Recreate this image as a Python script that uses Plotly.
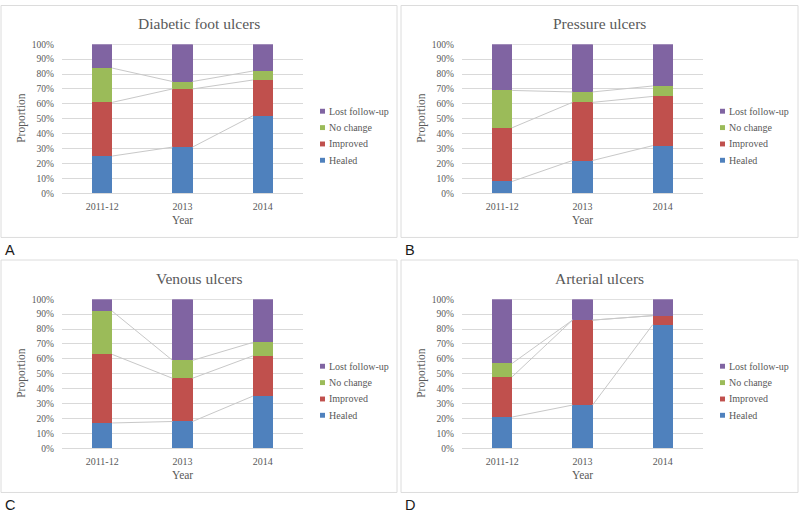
import plotly.graph_objects as go

# ---------------- data ----------------
years = ["2011-12", "2013", "2014"]
series_names = ["Healed", "Improved", "No change", "Lost follow-up"]
series_colors = ["#4F81BD", "#C0504D", "#9BBB59", "#8064A2"]
panel_titles = ["Diabetic foot ulcers", "Pressure ulcers", "Venous ulcers", "Arterial ulcers"]
panel_letters = ["A", "B", "C", "D"]
y_ticks = [0, 10, 20, 30, 40, 50, 60, 70, 80, 90, 100]
y_tick_labels = [f"{v}%" for v in y_ticks]

diabetic_healed = [25, 31, 52]
diabetic_improved = [36, 39, 24]
diabetic_no_change = [23, 5, 6]
diabetic_lost = [16, 25, 18]

pressure_healed = [8, 22, 32]
pressure_improved = [36, 39, 33]
pressure_no_change = [25, 7, 7]
pressure_lost = [31, 32, 28]

venous_healed = [17, 18, 35]
venous_improved = [46, 29, 27]
venous_no_change = [29, 12, 9]
venous_lost = [8, 41, 29]

arterial_healed = [21, 29, 83]
arterial_improved = [27, 57, 6]
arterial_no_change = [9, 0, 0]
arterial_lost = [43, 14, 11]

panels = [
    [diabetic_healed, diabetic_improved, diabetic_no_change, diabetic_lost],
    [pressure_healed, pressure_improved, pressure_no_change, pressure_lost],
    [venous_healed, venous_improved, venous_no_change, venous_lost],
    [arterial_healed, arterial_improved, arterial_no_change, arterial_lost],
]

# ---------------- layout helpers ----------------
W, H = 800, 521
SERIF = "Liberation Serif, Times New Roman, serif"
SANS = "Liberation Sans, Arial, sans-serif"
GREY_TXT = "#595959"
GRID = "#D9D9D9"
BAR_W = 0.25


def px(x):
    return x / W


def py(y):
    return 1 - y / H


offsets = [(0, 0), (400, 0), (0, 260), (400, 260)]
boxes = [(1, 0.5, 397, 237), (401, 0.5, 798, 237), (1, 260, 397, 497), (401, 260, 798, 497)]

fig = go.Figure()
annotations = []
shapes = []
layout_axes = {}

xpos = list(range(len(years)))

for p, (vals, (dx, dy)) in enumerate(zip(panels, offsets)):
    n = p + 1
    xa = "x" if n == 1 else f"x{n}"
    ya = "y" if n == 1 else f"y{n}"
    xkey = "xaxis" if n == 1 else f"xaxis{n}"
    ykey = "yaxis" if n == 1 else f"yaxis{n}"

    # stacked bars
    for s, (name, col) in enumerate(zip(series_names, series_colors)):
        fig.add_trace(go.Bar(
            x=xpos, y=vals[s], width=BAR_W, name=name,
            marker=dict(color=col, line=dict(width=0)),
            xaxis=xa, yaxis=ya, showlegend=False,
            hovertemplate=name + ": %{y}%<extra></extra>",
        ))

    # series lines connecting segment tops between adjacent bars
    lx, ly = [], []
    cum = [0] * len(years)
    for s in range(len(series_names)):
        cum = [c + v for c, v in zip(cum, vals[s])]
        for i in range(len(years) - 1):
            lx += [xpos[i] + BAR_W / 2, xpos[i + 1] - BAR_W / 2, None]
            ly += [cum[i], cum[i + 1], None]
    fig.add_trace(go.Scatter(
        x=lx, y=ly, mode="lines", line=dict(color="#C8C8C8", width=1),
        xaxis=xa, yaxis=ya, showlegend=False, hoverinfo="skip",
    ))

    # axes
    layout_axes[xkey] = dict(
        domain=[px(62 + dx), px(303 + dx)], range=[-0.5, 2.5],
        tickmode="array", tickvals=xpos, ticktext=years,
        showgrid=False, zeroline=False, showline=True, linecolor=GRID, linewidth=1,
        ticks="", ticklabelstandoff=4,
        tickfont=dict(family=SERIF, size=10, color=GREY_TXT),
        anchor=ya, fixedrange=True,
    )
    layout_axes[ykey] = dict(
        domain=[py(192 + dy), py(40 + dy)], range=[0, 100],
        tickmode="array", tickvals=y_ticks, ticktext=y_tick_labels,
        showgrid=True, gridcolor=GRID, gridwidth=1, zeroline=False, showline=False,
        ticks="", ticklabelstandoff=7,
        tickfont=dict(family=SERIF, size=9.5, color=GREY_TXT),
        anchor=xa, fixedrange=True,
    )

    # panel frame
    x0, y0, x1, y1 = boxes[p]
    shapes.append(dict(type="rect", xref="paper", yref="paper",
                       x0=px(x0), y0=py(y1), x1=px(x1), y1=py(y0),
                       line=dict(color="#DCDCDC", width=1), fillcolor="rgba(0,0,0,0)",
                       layer="below"))

    # title
    annotations.append(dict(text=panel_titles[p], x=px(199 + dx), y=py(19 + dy),
                            xref="paper", yref="paper", showarrow=False,
                            xanchor="center", yanchor="middle",
                            font=dict(family=SERIF, size=15.5, color=GREY_TXT)))
    # axis titles
    annotations.append(dict(text="Year", x=px(182.5 + dx), y=py(219 + dy),
                            xref="paper", yref="paper", showarrow=False,
                            xanchor="center", yanchor="middle",
                            font=dict(family=SERIF, size=11.5, color=GREY_TXT)))
    annotations.append(dict(text="Proportion", x=px(22 + dx), y=py(116 + dy),
                            xref="paper", yref="paper", showarrow=False, textangle=-90,
                            xanchor="center", yanchor="middle",
                            font=dict(family=SERIF, size=11.5, color=GREY_TXT)))
    # panel letter
    annotations.append(dict(text=panel_letters[p], x=px(3 + dx), y=py(250 + dy),
                            xref="paper", yref="paper", showarrow=False,
                            xanchor="left", yanchor="middle",
                            font=dict(family=SANS, size=14.5, color="#1A1A1A")))

    # legend (top to bottom: reversed series order)
    leg_y = [108.3, 125, 141.7, 158.3]
    for k, s in enumerate(reversed(range(len(series_names)))):
        cy = leg_y[k] + dy
        shapes.append(dict(type="rect", xref="paper", yref="paper",
                           x0=px(320 + dx), x1=px(325 + dx),
                           y0=py(cy + 2.5), y1=py(cy - 2.5),
                           fillcolor=series_colors[s], line=dict(width=0)))
        annotations.append(dict(text=series_names[s], x=px(327 + dx), y=py(cy),
                                xref="paper", yref="paper", showarrow=False,
                                xanchor="left", yanchor="middle",
                                font=dict(family=SERIF, size=10, color=GREY_TXT)))

fig.update_layout(
    width=W, height=H, margin=dict(l=0, r=0, t=0, b=0),
    paper_bgcolor="white", plot_bgcolor="white",
    barmode="stack", showlegend=False,
    annotations=annotations, shapes=shapes,
    **layout_axes,
)

fig.write_html(
    "out.html",
    config={"displayModeBar": False},
    post_script="document.body.style.margin='0';document.body.style.overflow='hidden';",
)
